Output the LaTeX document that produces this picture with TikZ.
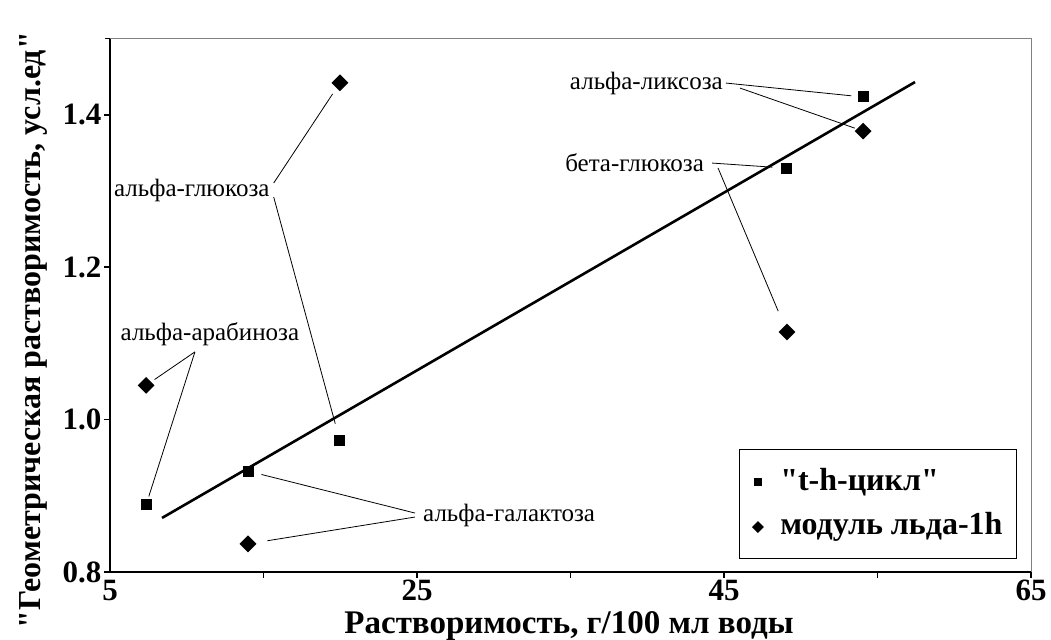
\documentclass[tikz,border=0pt]{standalone}
\usepackage{fontspec}
\setmainfont{Liberation Serif}[Ligatures=TeXOff]
\usepackage{tikz}
\usetikzlibrary{shapes.geometric}

\begin{document}
\begin{tikzpicture}[x=15.35pt, y=762pt,
  sqmark/.style={fill=black, minimum size=11pt, inner sep=0pt},
  dmmark/.style={diamond, fill=black, minimum size=17pt, inner sep=0pt},
  lbl/.style={font=\fontsize{25}{29}\selectfont, inner sep=0pt},
  leader/.style={line width=0.8pt},
  axnum/.style={font=\bfseries\fontsize{31}{36}\selectfont, inner sep=2pt},
  axtitle/.style={font=\bfseries\fontsize{33}{38}\selectfont, inner sep=0pt},
  legtxt/.style={font=\bfseries\fontsize{32}{37}\selectfont, inner sep=0pt, anchor=west}]
\useasboundingbox (-2.166, 0.7121) rectangle (66.30, 1.5507);

% frame and axes
\draw [draw=gray, line width=0.8pt] (5, 1.5) -- (65, 1.5) -- (65, 0.8);
\draw [line width=2.6pt] (5, 1.5) -- (5, 0.8) -- (65, 0.8);
\draw [line width=1.5pt] (5, 1.5) -- ++(-5pt, 0);
\foreach \y/\t [count=\i] in {0.8/0.8, 1.0/1.0, 1.2/1.2, 1.4/1.4}
  \draw [line width=1.5pt] (5, \y) -- ++(-6pt, 0) node [axnum, left] (ylab\i) {\t};
\foreach \x in {15, 25, 35, 45, 55, 65}
  \draw [line width=1.2pt] (\x, 0.8) -- ++(0, -6pt);
\foreach \x [count=\i] in {5, 25, 45, 65}
  \node [axnum, below, yshift=-6pt] (xlab\i) at (\x, 0.8) {\x};
\node [axtitle, anchor=base] (xtitle) at (34.9, 0.7199) {Растворимость, г/100 мл воды};
\node [axtitle, anchor=base, rotate=90, font=\bfseries\fontsize{32}{37}\selectfont] (ytitle) at (0.44, 1.1175)
  {"Геометрическая растворимость, усл.ед"};

% fit line
\draw [line width=2.6pt] (8.39, 0.871) -- (57.44, 1.443);

% "t-h-cycle" points
\node [sqmark] (sqarab) at (7.35, 0.888) {};
\node [sqmark] (sqgal)  at (13.99, 0.9325) {};
\node [sqmark] (sqglu)  at (19.98, 0.972) {};
\node [sqmark] (sqbeta) at (49.1, 1.330) {};
\node [sqmark] (sqlyx)  at (54.06, 1.4234) {};

% ice modulus points
\node [dmmark] (dmarab) at (7.35, 1.045) {};
\node [dmmark] (dmgal)  at (13.99, 0.837) {};
\node [dmmark] (dmglu)  at (19.98, 1.442) {};
\node [dmmark] (dmbeta) at (49.1, 1.115) {};
\node [dmmark] (dmlyx)  at (54.06, 1.3787) {};

% labels
\node [lbl, anchor=east] (lyx)  at (44.93, 1.4417) {альфа-ликсоза};
\node [lbl, anchor=east] (beta) at (43.70, 1.3367) {бета-глюкоза};
\node [lbl, anchor=west] (glu)  at (5.26, 1.3013) {альфа-глюкоза};
\node [lbl] (arab) at (11.51, 1.1123) {альфа-арабиноза};
\node [lbl, anchor=west] (gal)  at (25.39, 0.8748) {альфа-галактоза};

\draw [leader, shorten >=6pt]  ([xshift=3pt]lyx.east) -- (sqlyx);
\draw [leader, shorten >=2pt]  ([xshift=17pt, yshift=-5pt]lyx.east) -- (dmlyx);
\draw [leader, shorten >=9pt]  ([xshift=8pt]beta.east) -- (sqbeta);
\draw [leader, shorten >=16pt] ([xshift=14pt, yshift=-5pt]beta.east) -- (dmbeta);
\draw [leader, shorten >=7pt]  ([xshift=4pt, yshift=7pt]glu.east) -- (dmglu);
\draw [leader, shorten >=12pt] ([xshift=4pt, yshift=-7pt]glu.east) -- (sqglu);
\draw [leader, shorten >=4pt]  ([xshift=-15pt, yshift=-6pt]arab.south) -- (dmarab);
\draw [leader, shorten >=3pt]  ([xshift=-15pt, yshift=-6pt]arab.south) -- (sqarab);
\draw [leader, shorten >=8pt]  ([xshift=-8pt, yshift=2pt]gal.west) -- (sqgal);
\draw [leader, shorten >=12pt] ([xshift=-8pt, yshift=-2pt]gal.west) -- (dmgal);

% legend
\draw [line width=0.8pt] (45.98, 0.8184) rectangle (64.02, 0.9614);
\node [sqmark, minimum size=8pt] (legsq) at (47.21, 0.918) {};
\node [dmmark, minimum size=12pt] (legdm) at (47.21, 0.859) {};
\node [legtxt] (legsqtxt) at (48.65, 0.918) {"t-h-цикл"};
\node [legtxt] (legdmtxt) at (48.65, 0.859) {модуль льда-1h};
\end{tikzpicture}
\end{document}
